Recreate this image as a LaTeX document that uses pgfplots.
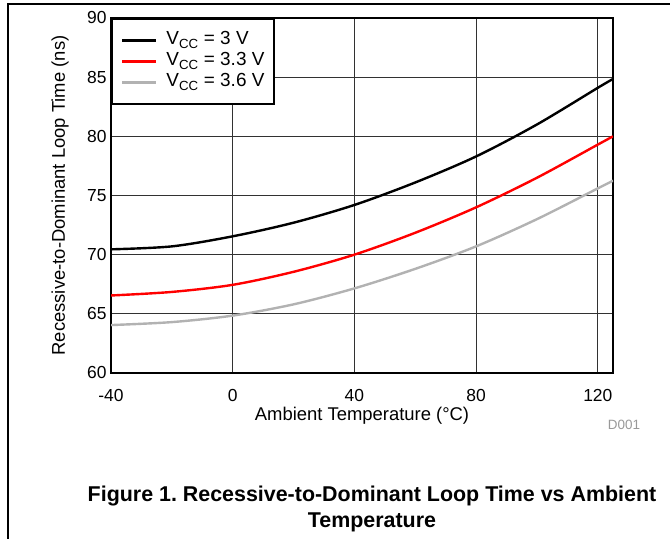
\documentclass[border=0pt]{standalone}
\usepackage{pgfplots}
\pgfplotsset{compat=1.18}
\usepackage{fontspec}
\setmainfont{Liberation Sans}
\definecolor{vccgray}{RGB}{178,178,178}
\definecolor{gridgray}{RGB}{50,50,50}
\begin{document}
\frenchspacing
\begin{tikzpicture}[x=1bp,y=1bp]
\useasboundingbox (0,0) rectangle (671,539);
\draw[line width=1.3bp] (8,0) -- (8,535) -- (670,535);
\begin{axis}[
    at={(111bp,166bp)}, anchor=south west,
    width=502bp, height=355bp, scale only axis,
    xmin=-40, xmax=125, ymin=60, ymax=90,
    xtick={-40,0,40,80,120}, ytick={60,65,70,75,80,85,90},
    grid=major,
    major grid style={gridgray, line width=0.9bp},
    major tick length=0pt,
    axis line style={line width=2.4bp},
    tick label style={font=\fontsize{17.5}{19}\selectfont},
    /pgf/number format/assume math mode=true,
    xticklabel style={yshift=-13bp},
    yticklabel style={xshift=-1bp},
    xlabel={Ambient Temperature (°C)},
    ylabel={Recessive-to-Dominant Loop Time (ns)},
    label style={font=\fontsize{18.5}{20}\selectfont},
    xlabel style={at={([yshift=-43bp]axis description cs:0.5,0)}, anchor=center},
    ylabel style={at={([xshift=-51bp]axis description cs:0,0.5)}, anchor=center},
    legend style={at={(0,1)}, anchor=north west, draw=black, line width=2bp,
        font=\fontsize{19}{20}\selectfont, row sep=2bp,
        inner xsep=9bp, inner ysep=12bp,
        nodes={inner sep=1bp, text height=13bp, text depth=4bp}},
    legend cell align=left,
    legend image code/.code={\draw[#1, line width=2.4bp] (0bp,0bp) -- (34bp,0bp); \path (42bp,0bp);},
]
\addplot[black, line width=2.4bp, smooth] coordinates {
    (-40,70.45) (-20,70.7) (0,71.55) (20,72.7) (40,74.2) (60,76.1) (80,78.3) (100,81.0) (120,84.1) (125,84.85)
};
\addlegendentry{V\textsubscript{CC} = 3 V}
\addplot[red, line width=2.4bp, smooth] coordinates {
    (-40,66.55) (-20,66.85) (0,67.45) (20,68.55) (40,70.0) (60,71.85) (80,74.0) (100,76.5) (120,79.3) (125,80.0)
};
\addlegendentry{V\textsubscript{CC} = 3.3 V}
\addplot[vccgray, line width=2.4bp, smooth] coordinates {
    (-40,64.05) (-20,64.3) (0,64.85) (20,65.8) (40,67.15) (60,68.8) (80,70.7) (100,73.0) (120,75.6) (125,76.25)
};
\addlegendentry{V\textsubscript{CC} = 3.6 V}
\end{axis}
\node[text=black!40, font=\fontsize{13.5}{15}\selectfont] at (624,114) {D001};
\node[align=center, font=\bfseries\fontsize{21.5}{27}\selectfont] at (372,30) {Figure 1. Recessive-to-Dominant Loop Time vs Ambient\\Temperature};
\end{tikzpicture}
\end{document}
